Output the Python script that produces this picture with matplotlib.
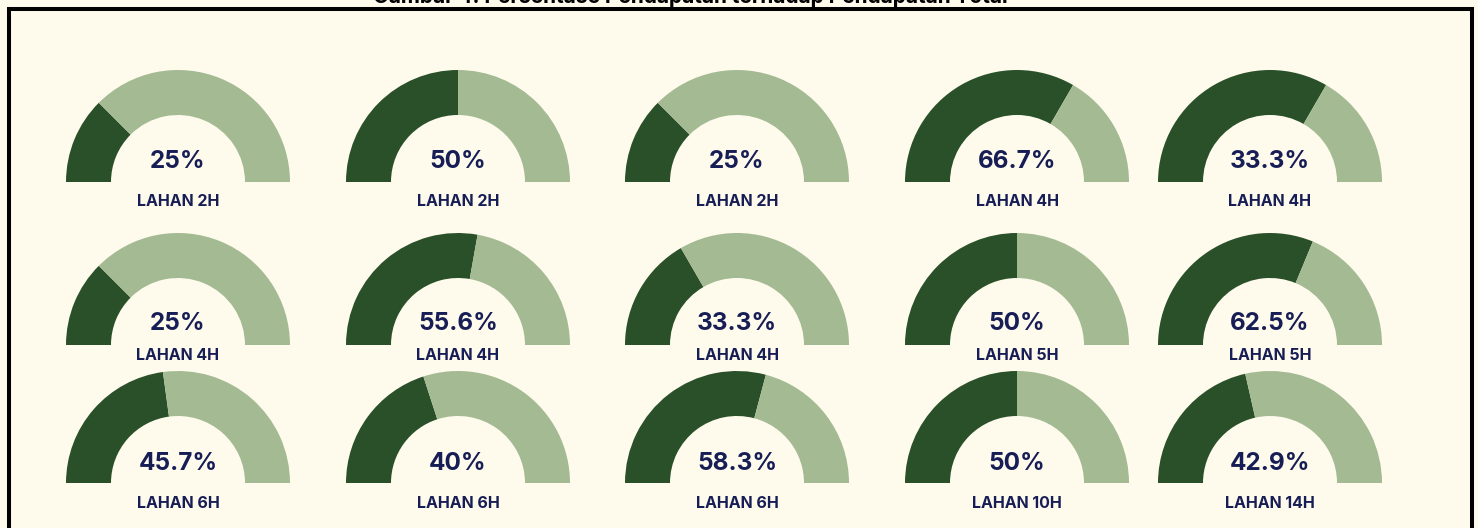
import matplotlib.pyplot as plt
from matplotlib.patches import Wedge, Rectangle

# gauge fill (share of the dark part) and the number printed inside it
gauge_values = [25, 50, 25, 66.7, 66.7,
                25, 55.6, 33.3, 50, 62.5,
                45.7, 40, 58.3, 50, 42.9]
shown_values = ["25%", "50%", "25%", "66.7%", "33.3%",
                "25%", "55.6%", "33.3%", "50%", "62.5%",
                "45.7%", "40%", "58.3%", "50%", "42.9%"]
names = ["LAHAN 2H", "LAHAN 2H", "LAHAN 2H", "LAHAN 4H", "LAHAN 4H",
         "LAHAN 4H", "LAHAN 4H", "LAHAN 4H", "LAHAN 5H", "LAHAN 5H",
         "LAHAN 6H", "LAHAN 6H", "LAHAN 6H", "LAHAN 10H", "LAHAN 14H"]
title = "Gambar 4. Persentase Pendapatan terhadap Pendapatan Total"

dark = "#2A5029"
light = "#A4BA93"
navy = "#171D55"
bg = "#FEFBEC"

W, H = 1478, 528
col_x = [178, 458, 737, 1017, 1270]
row_base = [182, 345, 483]
pct_off = [21, 21, 20]
label_off = [19, 11, 20]
r_out, r_in = 112, 67

fig = plt.figure(figsize=(W / 100, H / 100), dpi=100, facecolor=bg)
ax = fig.add_axes([0, 0, 1, 1])
ax.set_xlim(0, W)
ax.set_ylim(0, H)
ax.axis("off")

for i, v in enumerate(gauge_values):
    cx = col_x[i % 5]
    row = i // 5
    cy = H - row_base[row]
    split = 180 - 180 * v / 100
    ax.add_patch(Wedge((cx, cy), r_out, split, 180, width=r_out - r_in,
                       facecolor=dark, edgecolor="none"))
    ax.add_patch(Wedge((cx, cy), r_out, 0, split, width=r_out - r_in,
                       facecolor=light, edgecolor="none"))
    ax.text(cx, cy + pct_off[row], shown_values[i], ha="center", va="center",
            fontsize=17.5, fontweight="bold", color=navy, family="Inter")
    ax.text(cx, cy - label_off[row], names[i], ha="center", va="center",
            fontsize=11.5, fontweight="bold", color=navy, family="Inter")

# frame, bottom edge runs off the picture
ax.add_patch(Rectangle((8.5, -20), 1463, H - 8.5 + 20, facecolor="none",
                       edgecolor="black", linewidth=2.9))
# title sits mostly above the picture, as in the reference
ax.text(690, H - 3, title, ha="center", va="baseline", fontsize=15,
        fontweight="bold", color="black", family="Inter")

fig.savefig("out.png", dpi=100, facecolor=bg)
